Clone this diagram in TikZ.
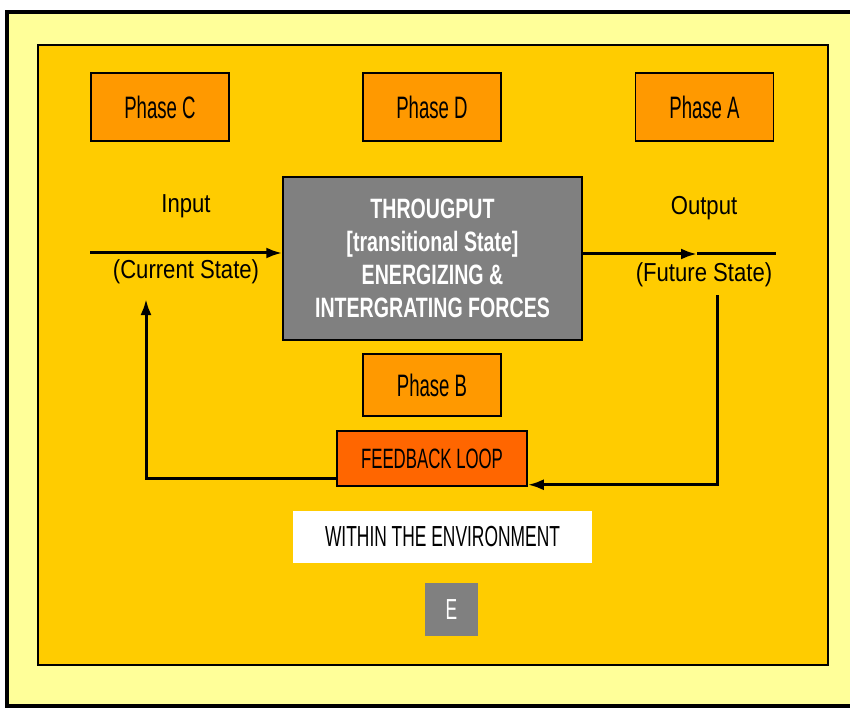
\documentclass[tikz,border=0pt]{standalone}
\usepackage{fontspec}
\setmainfont{Liberation Sans}[FakeStretch=0.7]
\newfontfamily\narrowfont{Liberation Sans}[FakeStretch=0.6]
\newfontfamily\widefont{Liberation Sans}[FakeStretch=0.85]
\usetikzlibrary{arrows.meta}
\definecolor{paleyellow}{HTML}{FFFF99}
\definecolor{gold}{HTML}{FFCC00}
\definecolor{phaseorange}{HTML}{FF9900}
\definecolor{loopred}{HTML}{FF6600}
\definecolor{midgray}{HTML}{808080}
\tikzset{
  phasebox/.style={draw, line width=1.5pt, fill=phaseorange, minimum width=138pt, minimum height=68pt, font=\narrowfont\fontsize{31}{33}\selectfont},
  flow/.style={line width=3pt, -{Latex[length=16pt,width=11pt]}},
  label/.style={font=\widefont\fontsize{26}{28}\selectfont}
}
\begin{document}
\begin{tikzpicture}[x=1pt,y=-1pt]
\useasboundingbox (0,0) rectangle (850,708);

\draw[line width=4pt, fill=paleyellow] (7,12) rectangle (880,706);
\draw[line width=1.5pt, fill=gold] (38,45) rectangle (828,665);

\foreach \name/\x/\txt in {phaseC/160/C, phaseD/432/D, phaseA/704.5/A}
	\node[phasebox] (\name) at (\x,107) {Phase \txt};
\node[phasebox, minimum height=62pt] (phaseB) at (432,385) {Phase B};

\node[draw, line width=1.5pt, fill=midgray, text=white, minimum width=299pt, minimum height=163pt, align=center,
  font=\bfseries\fontsize{28}{33}\selectfont] (through) at (432.5,258.5)
  {THROUGPUT\\{[}transitional State{]}\\ENERGIZING \&\\INTERGRATING FORCES};

\node[draw, line width=1.5pt, fill=loopred, minimum width=190pt, minimum height=55pt,
  font=\narrowfont\fontsize{28}{30}\selectfont] (feedback) at (432,458.5) {FEEDBACK LOOP};
\node[fill=white, minimum width=299pt, minimum height=52pt,
  font=\narrowfont\fontsize{29}{31}\selectfont] (env) at (442.5,537) {WITHIN THE ENVIRONMENT};
\node[fill=midgray, text=white, minimum width=53pt, minimum height=53pt,
  font=\narrowfont\fontsize{29}{31}\selectfont] (E) at (451.5,609.5) {E};

\node[label] (input) at (186,206) {Input};
\node[label] (current) at (186,272) {(Current State)};
\node[label] (output) at (704,208) {Output};
\node[label] (future) at (704,275) {(Future State)};

\coordinate (inL) at (90,253);
\coordinate (outM) at (697,254);
\coordinate (outR) at (776,254);
\coordinate (fbR) at (717,295);
\coordinate (fbL) at (146,299);

\draw[flow] (inL) -- (inL -| through.west);
\draw[flow] (through.east |- outM) -- (outM);
\draw[line width=3pt] (outM) -- (outR);
\draw[flow] (fbR) |- ([yshift=2pt]feedback.south east);
\draw[flow] ([yshift=8pt]feedback.south west) -| (fbL);

\end{tikzpicture}
\end{document}
